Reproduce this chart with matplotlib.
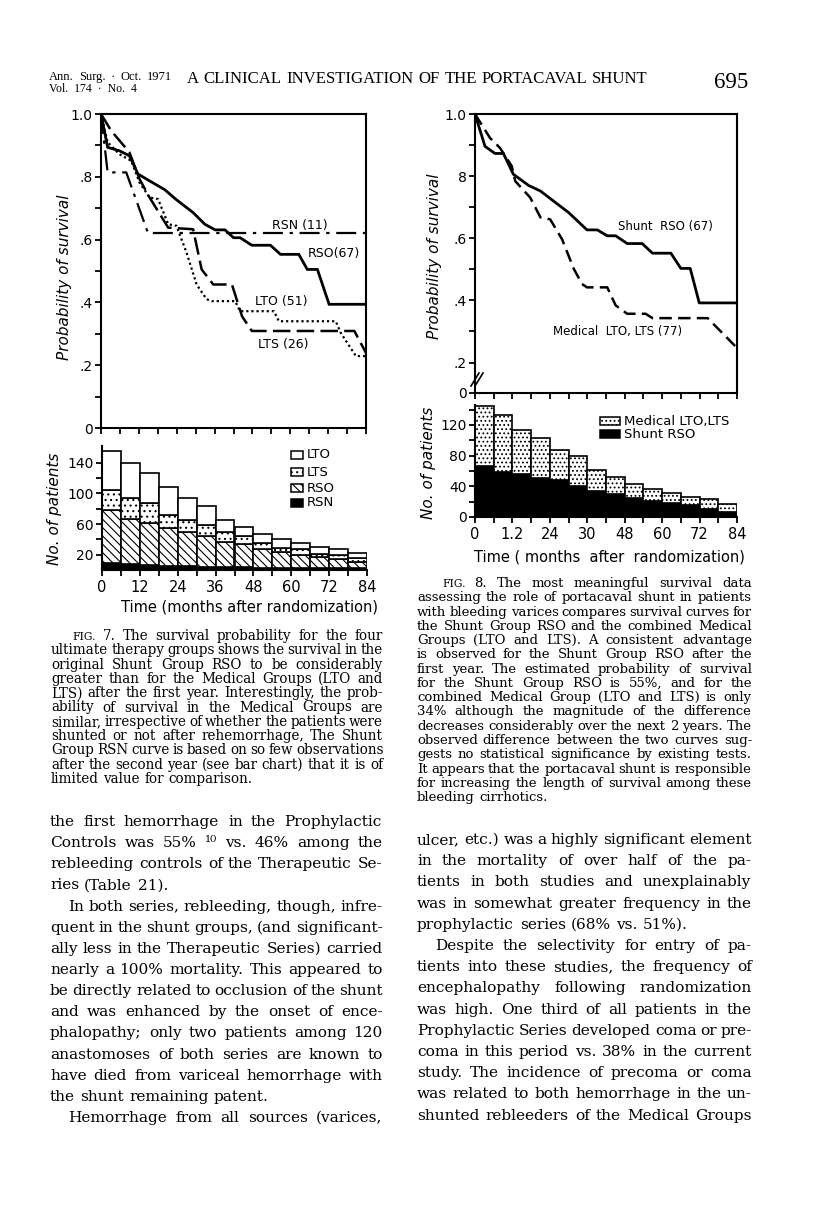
import matplotlib
matplotlib.use('Agg')
import matplotlib.pyplot as plt
from matplotlib.patches import Rectangle
from matplotlib.lines import Line2D
import numpy as np

# ---------------- data ----------------
# Fig. 7 survival curves (months, probability)
rso_t = [0, 2.1, 5.8, 9.0, 11.7, 15.4, 20.2, 23.9, 29.2, 32.9, 36.2, 39.3, 42.0, 44.1, 47.8, 53.7, 56.9, 62.7, 65.4, 68.6, 72.3, 84]
rso_s = [1.0, .894, .883, .867, .809, .787, .759, .727, .686, .649, .631, .631, .606, .606, .582, .582, .553, .553, .505, .505, .394, .394]
rsn_t = [0, 2.1, 8.0, 14.9, 84]
rsn_s = [1.0, .814, .814, .621, .621]
lto_t = [0, 2.1, 5.8, 9.6, 12.2, 15.4, 18.1, 21.3, 23.9, 27.1, 30.3, 33.5, 35.1, 42.5, 44.1, 54.8, 56.4, 74.4, 76.0, 80.8, 84]
lto_s = [1.0, .91, .872, .851, .782, .734, .729, .649, .644, .559, .457, .41, .404, .404, .372, .372, .34, .34, .303, .229, .229]
lts_t = [0, 3.2, 9.0, 12.2, 15.4, 21.3, 29.2, 31.9, 35.6, 41.5, 44.7, 47.8, 80.3, 84]
lts_s = [1.0, .947, .878, .793, .734, .638, .633, .505, .457, .457, .356, .309, .309, .239]

# Fig. 7 number of patients per 6-month interval
bin_start = [0, 6, 12, 18, 24, 30, 36, 42, 48, 54, 60, 66, 72, 78]
n_rsn = [9, 8, 7, 5, 5, 4, 4, 4, 3, 3, 3, 3, 3, 3]
n_rso = [69, 58, 55, 50, 45, 40, 33, 30, 24, 20, 17, 14, 11, 8]
n_lts = [26, 28, 25, 17, 15, 15, 12, 10, 8, 6, 7, 4, 6, 5]
n_lto = [51, 46, 40, 36, 29, 25, 16, 12, 12, 11, 8, 9, 8, 6]

# Fig. 8 survival curves
shunt_t = [0, 3.2, 6.4, 9.1, 12.3, 17.2, 21.0, 25.8, 30.0, 35.9, 39.2, 42.4, 45.1, 48.8, 53.6, 56.9, 62.8, 66.0, 69.0, 71.9, 84]
shunt_s = [1.0, .896, .873, .873, .806, .770, .752, .715, .683, .627, .627, .608, .608, .583, .583, .552, .552, .503, .503, .392, .392]
med_t = [0, 4.8, 8.0, 11.8, 12.9, 17.7, 21.0, 24.1, 27.9, 31.7, 34.3, 35.9, 42.4, 45.1, 48.8, 54.7, 56.9, 74.6, 84]
med_s = [1.0, .923, .891, .832, .784, .731, .667, .661, .597, .501, .453, .442, .442, .384, .357, .357, .343, .343, .247]

# Fig. 8 number of patients
n_shunt = [67, 59, 56, 51, 48, 41, 34, 30, 25, 21, 18, 15, 11, 6]
n_med = [78, 74, 58, 52, 39, 38, 27, 22, 18, 15, 13, 11, 12, 11]

xtick_vals = [0, 12, 24, 36, 48, 60, 72, 84]
xtick_lab7 = ['0', '12', '24', '36', '48', '60', '72', '84']
xtick_lab8 = ['0', '1.2', '24', '30', '48', '60', '72', '84']

# ---------------- figure ----------------
W, H = 816, 1219
plt.rcParams['font.family'] = ['DejaVu Sans']
plt.rcParams['hatch.linewidth'] = 0.8
fig = plt.figure(figsize=(W / 100, H / 100), dpi=100)
fig.patch.set_facecolor('white')


def ax_px(l, t, r, b):
    return fig.add_axes([l / W, 1 - b / H, (r - l) / W, (b - t) / H])


def ftext(x, y, s, **kw):
    return fig.text(x / W, 1 - y / H, s, **kw)


def style_ax(ax, full_box=True):
    for sp in ax.spines.values():
        sp.set_linewidth(1.5)
    if not full_box:
        ax.spines['top'].set_visible(False)
        ax.spines['right'].set_visible(False)
    ax.tick_params(which='both', direction='out', length=4, width=1.3, pad=2, labelsize=10)


# ----- Fig 7 survival -----
ax1 = ax_px(101, 114, 366, 428)
style_ax(ax1)
ax1.set_xlim(0, 84)
ax1.set_ylim(0, 1.0)
ax1.set_xticks(np.arange(0, 85, 6))
ax1.set_xticklabels([])
ax1.set_yticks([0, .2, .4, .6, .8, 1.0])
ax1.set_yticklabels(['0', '.2', '.4', '.6', '.8', '1.0'])
ax1.set_yticks([.1, .3, .5, .7, .9], minor=True)
ax1.plot(rso_t, rso_s, color='black', lw=2.0, solid_joinstyle='miter')
ax1.plot(rsn_t, rsn_s, color='black', lw=1.6, linestyle=(0, (9, 3, 1.5, 3)))
ax1.plot(lto_t, lto_s, color='black', lw=1.6, linestyle=(0, (1, 1.3)))
ax1.plot(lts_t, lts_s, color='black', lw=1.8, linestyle=(0, (7, 2.5)))
ftext(272, 225, 'RSN (11)', fontsize=9, va='center')
ftext(308, 253, 'RSO(67)', fontsize=9, va='center')
ftext(255, 302, 'LTO (51)', fontsize=9, va='center')
ftext(258, 345, 'LTS (26)', fontsize=9, va='center')
ftext(65, 277, 'Probability of survival', fontsize=11, style='italic', rotation=90,
      ha='center', va='center')

# ----- Fig 7 bars -----
ax2 = ax_px(102, 446, 367, 570)
style_ax(ax2, full_box=False)
ax2.set_xlim(0, 84)
ax2.set_ylim(0, 162)
b1 = np.array(n_rsn)
b2 = b1 + np.array(n_rso)
b3 = b2 + np.array(n_lts)
kw = dict(width=6, align='edge', edgecolor='black', linewidth=1.2)
ax2.bar(bin_start, n_rsn, color='black', **kw)
ax2.bar(bin_start, n_rso, bottom=b1, color='white', hatch='\\\\\\\\', **kw)
ax2.bar(bin_start, n_lts, bottom=b2, color='white', hatch='...', **kw)
ax2.bar(bin_start, n_lto, bottom=b3, color='white', **kw)
ax2.set_yticks([20, 60, 100, 140])
ax2.set_yticks([40, 80, 120], minor=True)
ax2.set_xticks(xtick_vals)
ax2.set_xticklabels(xtick_lab7, fontsize=10.5)
ax2.set_xticks(np.arange(6, 84, 12), minor=True)
ax2.tick_params(axis='x', which='major', pad=3)
ftext(55, 509, 'No. of patients', fontsize=11, style='italic', rotation=90,
      ha='center', va='center')
ftext(249, 607, 'Time (months after randomization)', fontsize=10.5, ha='center',
      va='center')

# legend Fig 7
leg7 = [('LTO', 'white', None), ('LTS', 'white', '...'), ('RSO', 'white', '\\\\\\\\'),
        ('RSN', 'black', None)]
for (lab, fc, hat), yc in zip(leg7, [455, 472, 488, 503]):
    fig.add_artist(Rectangle((291 / W, 1 - (yc + 4) / H), 12 / W, 8 / H,
                             transform=fig.transFigure, facecolor=fc,
                             edgecolor='black', hatch=hat, lw=1.1))
    ftext(307, yc, lab, fontsize=9.5, va='center')

# ----- Fig 8 survival -----
ax3 = ax_px(475, 114, 737, 393)
style_ax(ax3)
ax3.set_xlim(0, 84)
ax3.set_ylim(0.102, 1.0)
ax3.set_xticks(np.arange(0, 85, 6))
ax3.set_xticklabels([])
ax3.set_yticks([0.102, .2, .4, .6, .8, 1.0])
ax3.set_yticklabels(['0', '.2', '.4', '.6', '8', '1.0'])
ax3.set_yticks([.3, .5, .7, .9], minor=True)
ax3.plot(shunt_t, shunt_s, color='black', lw=2.0)
ax3.plot(med_t, med_s, color='black', lw=1.8, linestyle=(0, (5, 2.5)))
for dx in (0, 4):
    fig.add_artist(Line2D([(471 + dx) / W, (479 + dx) / W],
                          [1 - 386 / H, 1 - 373 / H], color='black', lw=1.2))
ftext(618, 226, 'Shunt  RSO (67)', fontsize=8.5, va='center')
ftext(553, 331, 'Medical  LTO, LTS (77)', fontsize=8.5, va='center')
ftext(435, 256, 'Probability of survival', fontsize=11, style='italic', rotation=90,
      ha='center', va='center')

# ----- Fig 8 bars -----
ax4 = ax_px(475, 405, 737, 517)
style_ax(ax4, full_box=False)
ax4.set_xlim(0, 84)
ax4.set_ylim(0, 146)
ax4.bar(bin_start, n_shunt, color='black', **kw)
ax4.bar(bin_start, n_med, bottom=n_shunt, color='white', hatch='....', **kw)
ax4.set_yticks([0, 40, 80, 120])
ax4.set_yticks([20, 60, 100, 140], minor=True)
ax4.set_xticks(xtick_vals)
ax4.set_xticklabels(xtick_lab8, fontsize=10.5)
ax4.set_xticks(np.arange(6, 84, 12), minor=True)
ax4.tick_params(axis='x', which='major', pad=3)
ftext(428, 463, 'No. of patients', fontsize=11, style='italic', rotation=90,
      ha='center', va='center')
ftext(609, 557, 'Time ( months  after  randomization)', fontsize=10.5, ha='center',
      va='center')
leg8 = [('Medical LTO,LTS', 'white', '....'), ('Shunt RSO', 'black', None)]
for (lab, fc, hat), yc in zip(leg8, [421, 434]):
    fig.add_artist(Rectangle((600 / W, 1 - (yc + 4) / H), 20 / W, 8 / H,
                             transform=fig.transFigure, facecolor=fc,
                             edgecolor='black', hatch=hat, lw=1.1))
    ftext(624, yc, lab, fontsize=9.5, va='center')

# ---------------- text blocks ----------------
renderer = fig.canvas.get_renderer()


def wid(s, sz, family):
    t = fig.text(0, 0, s, fontsize=sz, family=family)
    w = t.get_window_extent(renderer).width
    t.remove()
    return w


def block(lines, x0, x1, y0, dy, size, family, boff, indent_idx=(), noj_idx=(), indent=0,
          min_gap=0.7):
    sp = wid('n n', size, family) - wid('nn', size, family)
    meas = []
    scale = 1.0
    for i, ln in enumerate(lines):
        words = ln.split()
        szs = [size * (0.8 if w.startswith('FIG') else 1.0) for w in words]
        ws = [wid(w, s, family) for w, s in zip(words, szs)]
        meas.append((words, ws, szs))
        if i not in noj_idx:
            avail = x1 - x0 - (indent if i in indent_idx else 0)
            nat = sum(ws) + min_gap * sp * (len(words) - 1)
            scale = min(scale, avail / nat)
    for i, (words, ws, szs) in enumerate(meas):
        ws = [w * scale for w in ws]
        xs = x0 + (indent if i in indent_idx else 0)
        avail = x1 - xs
        if i in noj_idx or len(words) == 1:
            gap = sp * scale
        else:
            gap = (avail - sum(ws)) / (len(words) - 1)
        y = y0 + dy * i + boff
        x = xs
        for w, ww, s in zip(words, ws, szs):
            ftext(x, y, w, fontsize=s * scale, family=family, va='baseline', ha='left')
            x += ww + gap


SERIF = ['Liberation Serif', 'DejaVu Serif']
BOOK = ['DejaVu Serif']

# header
block(['Ann. Surg. · Oct. 1971'], 49, 172, 80, 0, 9, SERIF, 0, min_gap=1.0)
ftext(49, 92, 'Vol.  174  ·  No.  4', fontsize=8.5, family=SERIF, va='baseline')
block(['A CLINICAL INVESTIGATION OF THE PORTACAVAL SHUNT'], 187, 648, 83, 0, 14,
      SERIF, 0, min_gap=1.0)
ftext(748, 88, '695', fontsize=16.5, family=SERIF, va='baseline', ha='right')

cap7 = [
    "FIG. 7. The survival probability for the four",
    "ultimate therapy groups shows the survival in the",
    "original Shunt Group RSO to be considerably",
    "greater than for the Medical Groups (LTO and",
    "LTS) after the first year. Interestingly, the prob-",
    "ability of survival in the Medical Groups are",
    "similar, irrespective of whether the patients were",
    "shunted or not after rehemorrhage, The Shunt",
    "Group RSN curve is based on so few observations",
    "after the second year (see bar chart) that it is of",
    "limited value for comparison.",
]
block(cap7, 51, 383, 636, 14.3, 13, BOOK, 4, indent_idx=(0,), noj_idx=(10,), indent=21)

cap8 = [
    "FIG. 8. The most meaningful survival data",
    "assessing the role of portacaval shunt in patients",
    "with bleeding varices compares survival curves for",
    "the Shunt Group RSO and the combined Medical",
    "Groups (LTO and LTS). A consistent advantage",
    "is observed for the Shunt Group RSO after the",
    "first year. The estimated probability of survival",
    "for the Shunt Group RSO is 55%, and for the",
    "combined Medical Group (LTO and LTS) is only",
    "34% although the magnitude of the difference",
    "decreases considerably over the next 2 years. The",
    "observed difference between the two curves sug-",
    "gests no statistical significance by existing tests.",
    "It appears that the portacaval shunt is responsible",
    "for increasing the length of survival among these",
    "bleeding cirrhotics.",
]
block(cap8, 417, 752, 583, 14.27, 13, BOOK, 4, indent_idx=(0,), noj_idx=(15,), indent=25)

body_l = [
    "the first hemorrhage in the Prophylactic",
    "Controls was 55% ¹⁰ vs. 46% among the",
    "rebleeding controls of the Therapeutic Se-",
    "ries (Table 21).",
    "In both series, rebleeding, though, infre-",
    "quent in the shunt groups, (and significant-",
    "ally less in the Therapeutic Series) carried",
    "nearly a 100% mortality. This appeared to",
    "be directly related to occlusion of the shunt",
    "and was enhanced by the onset of ence-",
    "phalopathy; only two patients among 120",
    "anastomoses of both series are known to",
    "have died from variceal hemorrhage with",
    "the shunt remaining patent.",
    "Hemorrhage from all sources (varices,",
]
block(body_l, 50, 383, 821, 21.14, 16, BOOK, 5, indent_idx=(4, 14), noj_idx=(3, 13), indent=18)

body_r = [
    "ulcer, etc.) was a highly significant element",
    "in the mortality of over half of the pa-",
    "tients in both studies and unexplainably",
    "was in somewhat greater frequency in the",
    "prophylactic series (68% vs. 51%).",
    "Despite the selectivity for entry of pa-",
    "tients into these studies, the frequency of",
    "encephalopathy following randomization",
    "was high. One third of all patients in the",
    "Prophylactic Series developed coma or pre-",
    "coma in this period vs. 38% in the current",
    "study. The incidence of precoma or coma",
    "was related to both hemorrhage in the un-",
    "shunted rebleeders of the Medical Groups",
]
block(body_r, 417, 752, 839, 21.2, 16, BOOK, 5, indent_idx=(5,), noj_idx=(4,), indent=18)

fig.savefig('out.png', dpi=100, facecolor='white')
